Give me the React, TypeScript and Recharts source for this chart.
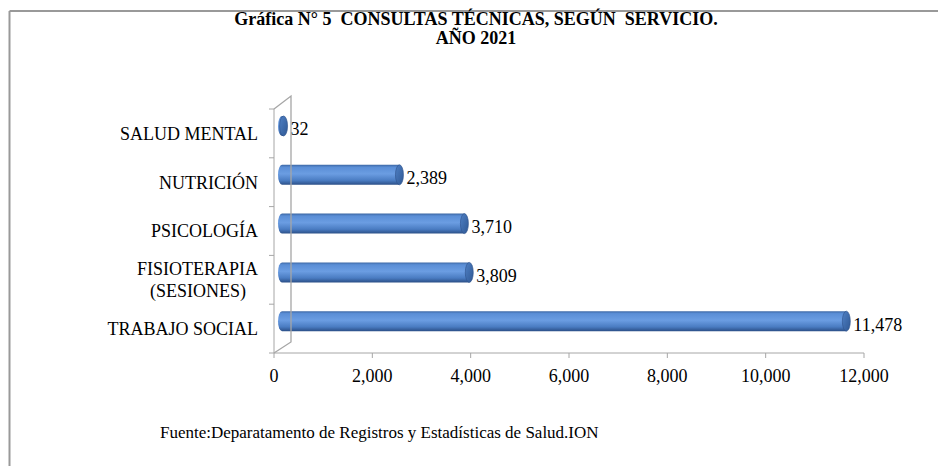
import { BarChart, Bar, XAxis, YAxis, LabelList } from 'recharts'

const categories = ['SALUD MENTAL', 'NUTRICIÓN', 'PSICOLOGÍA', 'FISIOTERAPIA\n(SESIONES)', 'TRABAJO SOCIAL']
const consultas = [32, 2389, 3710, 3809, 11478]
const xTicks = [0, 2000, 4000, 6000, 8000, 10000, 12000]

const data = categories.map((servicio, i) => ({ servicio, consultas: consultas[i] }))

const W = 938
const H = 466
const margin = { top: 109, right: 74, bottom: 83, left: 0 }
const yAxisWidth = 274
const xAxisHeight = 30
const plotLeft = margin.left + yAxisWidth
const plotBottom = H - margin.bottom - xAxisHeight
const band = (plotBottom - margin.top) / categories.length
// depth offset of the 3D bars
const DX = 8
const DY = -7
const font = '"Liberation Serif", "Times New Roman", serif'
const grey = '#a6a6a6'

const CylinderBar = (props: any) => {
  const { x, y, width, height } = props
  const x0 = x + DX
  const top = y + DY
  const x1 = x0 + Math.max(width, 0)
  const rx = 4
  const ry = height / 2
  return (
    <g>
      <path
        d={`M${x0},${top} L${x1},${top} L${x1},${top + height} L${x0},${top + height} A${rx},${ry} 0 0 1 ${x0},${top} Z`}
        fill="url(#cyl)"
      />
      <ellipse cx={x1} cy={top + ry} rx={rx} ry={ry} fill="url(#cap)" stroke="#2d5189" strokeWidth={0.6} />
    </g>
  )
}

const CategoryTick = (props: any) => {
  const { y, payload, index } = props
  const lines = String(payload.value).split('\n')
  const tx = plotLeft - 16
  return (
    <g>
      <line x1={plotLeft - 5} x2={plotLeft} y1={y - band / 2} y2={y - band / 2} stroke={grey} />
      {index === categories.length - 1 && (
        <line x1={plotLeft - 5} x2={plotLeft} y1={y + band / 2} y2={y + band / 2} stroke={grey} />
      )}
      {lines.map((l, i) => (
        <text
          key={i}
          x={tx - (i > 0 ? 12 : 0)}
          y={y + (i - (lines.length - 1) / 2) * 22}
          dy="0.35em"
          textAnchor="end"
          fontFamily={font}
          fontSize={18}
          fill="#000"
        >
          {l}
        </text>
      ))}
    </g>
  )
}

const ValueLabel = (props: any) => {
  const { x, y, width, height, value } = props
  return (
    <text
      x={x + width + 15}
      y={y + height / 2 - 4}
      dy="0.35em"
      fontFamily={font}
      fontSize={18}
      fill="#000"
    >
      {Number(value).toLocaleString('en-US')}
    </text>
  )
}

export default function App() {
  return (
    <div style={{ position: 'absolute', left: 0, top: 0, width: W, height: H, background: '#fff' }}>
      <BarChart width={W} height={H} data={data} layout="vertical" margin={margin} barSize={20}>
        <defs>
          <linearGradient id="cyl" x1="0" y1="0" x2="0" y2="1">
            <stop offset="0%" stopColor="#3c67a4" />
            <stop offset="12%" stopColor="#5a8ed6" />
            <stop offset="45%" stopColor="#6b9de2" />
            <stop offset="78%" stopColor="#4a7cc2" />
            <stop offset="100%" stopColor="#2b4f87" />
          </linearGradient>
          <linearGradient id="cap" x1="0" y1="0" x2="1" y2="1">
            <stop offset="0%" stopColor="#4f80c4" />
            <stop offset="100%" stopColor="#2f5894" />
          </linearGradient>
        </defs>
        <XAxis
          type="number"
          domain={[0, 12000]}
          ticks={xTicks}
          height={xAxisHeight}
          tickFormatter={(v: number) => v.toLocaleString('en-US')}
          axisLine={{ stroke: grey }}
          tickLine={{ stroke: grey }}
          tickSize={5}
          tickMargin={11}
          tick={{ fontFamily: font, fontSize: 18, fill: '#000' }}
        />
        <YAxis
          type="category"
          dataKey="servicio"
          width={yAxisWidth}
          axisLine={{ stroke: grey }}
          tickLine={false}
          tick={<CategoryTick />}
          interval={0}
        />
        <Bar dataKey="consultas" shape={<CylinderBar />} isAnimationActive={false}>
          <LabelList dataKey="consultas" content={<ValueLabel />} />
        </Bar>
      </BarChart>
      <svg width={W} height={H} style={{ position: 'absolute', left: 0, top: 0, pointerEvents: 'none' }}>
        <line x1={9.5} x2={9.5} y1={11} y2={H} stroke="#999" strokeWidth={2} />
        <line x1={9.5} x2={W} y1={11} y2={11} stroke="#999" strokeWidth={2} />
        <polyline
          points={`${plotLeft},${margin.top} ${plotLeft + 17},${margin.top - 13} ${plotLeft + 17},${plotBottom - 11} ${plotLeft},${plotBottom}`}
          fill="none"
          stroke={grey}
          strokeWidth={1.3}
        />
        <text
          x={476}
          y={25}
          textAnchor="middle"
          fontFamily={font}
          fontWeight="bold"
          fontSize={18}
          fill="#000"
          style={{ whiteSpace: 'pre' }}
        >
          {'Gráfica N° 5  CONSULTAS TÉCNICAS, SEGÚN  SERVICIO.'}
        </text>
        <text x={476} y={44} textAnchor="middle" fontFamily={font} fontWeight="bold" fontSize={18} fill="#000">
          AÑO 2021
        </text>
        <text x={160} y={438} fontFamily={font} fontSize={17} fill="#000">
          Fuente:Deparatamento de Registros y Estadísticas de Salud.ION
        </text>
      </svg>
    </div>
  )
}
